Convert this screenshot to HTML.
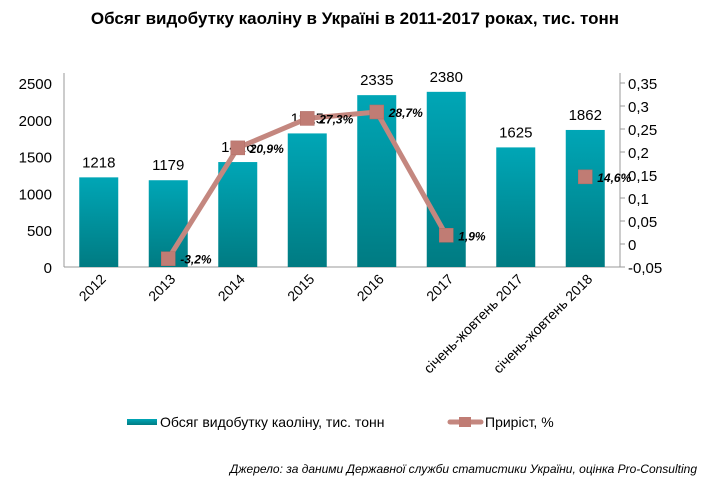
<!DOCTYPE html>
<html><head><meta charset="utf-8"><style>
body{margin:0;background:#fff;}
svg{display:block;font-family:"Liberation Sans",Arial,sans-serif;}
</style></head><body>
<svg id="chart" width="710" height="487" viewBox="0 0 710 487">
<defs>
<linearGradient id="bg" x1="0" y1="0" x2="0" y2="1">
<stop offset="0" stop-color="#00a6b6"/><stop offset="1" stop-color="#007b82"/>
</linearGradient>
</defs>
<text x="355" y="24" text-anchor="middle" font-size="17" font-weight="bold" fill="#000">Обсяг видобутку каоліну в Україні в 2011-2017 роках, тис. тонн</text>
<g id="plot"></g>
<g>
<rect x="127" y="419" width="30" height="6" fill="url(#bg)"/>
<text x="160" y="427" font-size="14" fill="#000">Обсяг видобутку  каоліну,  тис.  тонн</text>
<line x1="450" y1="422" x2="481" y2="422" stroke="#c4877f" stroke-width="5" stroke-linecap="round"/>
<rect x="459" y="417" width="12" height="10" fill="#c07c74"/>
<text x="485" y="427" font-size="14" fill="#000">Приріст,  %</text>
</g>
<text x="697" y="473" text-anchor="end" font-size="12" font-style="italic" fill="#000">Джерело: за даними Державної служби статистики України, оцінка Pro-Consulting</text>
</svg>
<script>
const categories = ["2012","2013","2014","2015","2016","2017","січень-жовтень 2017","січень-жовтень 2018"];
const volumes = [1218,1179,1426,1815,2335,2380,1625,1862];
const growth = [null,-0.032,0.209,0.273,0.287,0.019,null,0.146];
const growthLabels = ["","-3,2%","20,9%","27,3%","28,7%","1,9%","","14,6%"];
const leftTicks = [0,500,1000,1500,2000,2500];
const rightTicks = [-0.05,0,0.05,0.1,0.15,0.2,0.25,0.3,0.35];
const rightTickLabels = ["-0,05","0","0,05","0,1","0,15","0,2","0,25","0,3","0,35"];

const NS="http://www.w3.org/2000/svg";
const g=document.getElementById('plot');
const X0=64,X1=620,Y0=267,Y1=83;
const bw=(X1-X0)/categories.length;
const cx=i=>X0+bw*(i+0.5);
const yL=v=>Y0-(v/2500)*(Y0-Y1);
const yR=v=>Y0-((v+0.05)/0.4)*(Y0-Y1);
function mk(t,a,txt){const e=document.createElementNS(NS,t);for(const k in a)e.setAttribute(k,a[k]);if(txt!==undefined)e.textContent=txt;g.appendChild(e);return e;}

let e=mk('line',{x1:X0,y1:Y1-10,x2:X0,y2:Y0,stroke:'#999'});


e=mk('line',{x1:X1,y1:Y1-10,x2:X1,y2:Y0,stroke:'#999'});


e=mk('line',{x1:X0,y1:Y0,x2:X1,y2:Y0,stroke:'#999'});



leftTicks.forEach(v=>{
  e=mk('text',{x:X0-12,y:yL(v)+6,'text-anchor':'end','font-size':15,fill:'#000'},String(v));
  
  
});
rightTicks.forEach((v,i)=>{
  mk('line',{x1:X1,y1:yR(v),x2:X1+5,y2:yR(v),stroke:'#999'});
  e=mk('text',{x:X1+8,y:yR(v)+6,'font-size':15,fill:'#000'},rightTickLabels[i]);
  
  
});

volumes.forEach((v,i)=>{
  e=mk('rect',{x:cx(i)-19.5,y:yL(v),width:39,height:Y0-yL(v),fill:'url(#bg)'});
  
  
  e=mk('text',{x:cx(i),y:yL(v)-10,'text-anchor':'middle','font-size':15,fill:'#000'},String(v));
  
  
});

categories.forEach((c,i)=>{
  const x=cx(i)+8,y=280;
  e=mk('text',{x:x,y:y,'text-anchor':'end','font-size':14,fill:'#000',transform:`rotate(-45 ${x} ${y})`},c);
  
  
});

let pts=[];
growth.forEach((v,i)=>{ if(v===null){ if(pts.length>1) draw(pts); pts=[]; } else pts.push([cx(i),yR(v)]); });
if(pts.length>1) draw(pts);
function draw(p){
  e=mk('polyline',{points:p.map(q=>q.join(',')).join(' '),fill:'none',stroke:'#c4877f','stroke-width':5,'stroke-linejoin':'round'});
  
  
}
growth.forEach((v,i)=>{
  if(v===null) return;
  e=mk('rect',{x:cx(i)-7,y:yR(v)-7,width:14,height:14,fill:'#c07c74',stroke:'#b06c64','stroke-width':0.5});
  
  
  e=mk('text',{x:cx(i)+12,y:yR(v)+5,'font-size':12,'font-weight':'bold','font-style':'italic',fill:'#000'},growthLabels[i]);
  
  
});
</script>
</body></html>
